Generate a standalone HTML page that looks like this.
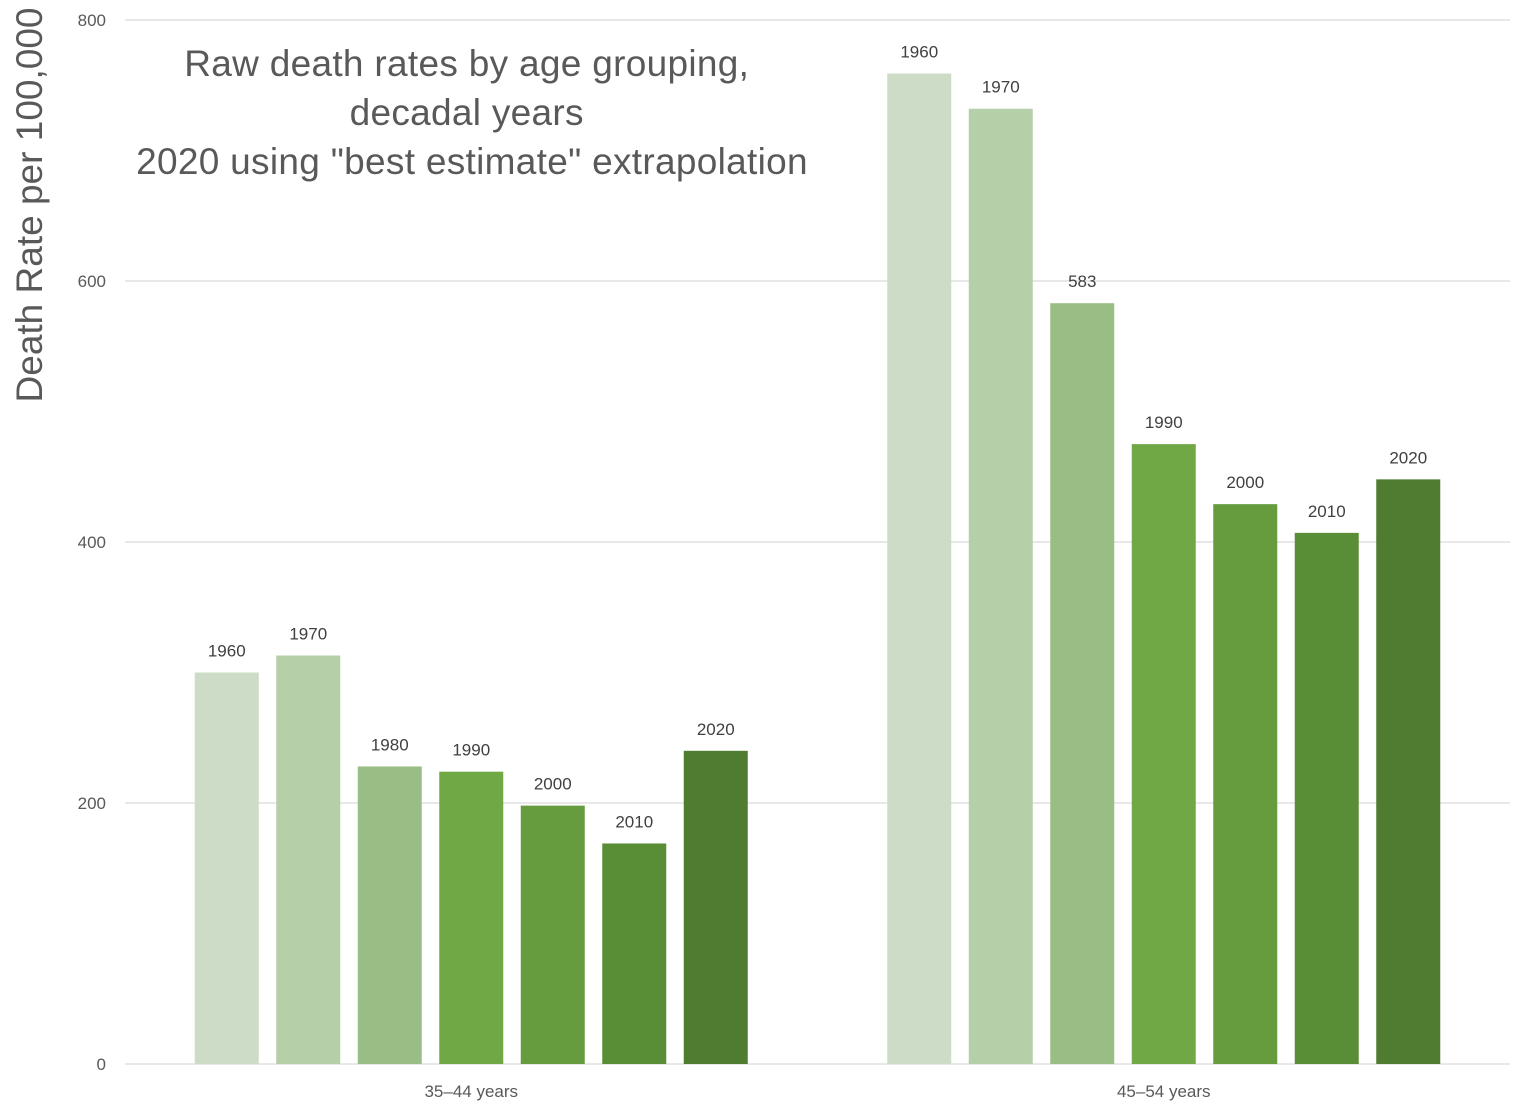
<!DOCTYPE html>
<html><head><meta charset="utf-8"><style>
body{margin:0;background:#fff;}
svg{display:block;font-family:"Liberation Sans",sans-serif;}
</style></head><body>
<svg id="chart" width="1520" height="1112">
<text x="472" fill="#595959" font-size="37" letter-spacing="0.3" text-anchor="middle">
<tspan x="472" y="76">Raw death rates by age grouping,</tspan>
<tspan x="472" y="125">decadal years</tspan>
<tspan x="472" y="174">2020 using "best estimate" extrapolation</tspan>
</text>
<text transform="translate(42,205) rotate(-90)" fill="#595959" font-size="37" text-anchor="middle">Death Rate per 100,000</text>
<g id="grid"></g><g id="bars"></g>
</svg>
<script>
const categories = ["35–44 years","45–54 years"];
const years = ["1960","1970","1980","1990","2000","2010","2020"];
const values35 = [300,313,228,224,198,169,240];
const values45 = [759,732,583,475,429,407,448];
const labels35 = ["1960","1970","1980","1990","2000","2010","2020"];
const labels45 = ["1960","1970","583","1990","2000","2010","2020"];
const yTicks = [0,200,400,600,800];
const colors = ["#cddcc6","#b5cfa8","#98bd85","#70a845","#669c3e","#5a8e36","#4f7c30"];
const NS="http://www.w3.org/2000/svg";
const x0=125,x1=1510,yBase=1064,yTop=20,yMax=800;
const yScale=v=>yBase-(yBase-yTop)*v/yMax;
const catW=(x1-x0)/categories.length;
const barW=64,step=81.5;
const grid=document.getElementById('grid'),bars=document.getElementById('bars');
function mk(t,a,p){const e=document.createElementNS(NS,t);for(const k in a)e.setAttribute(k,a[k]);p.appendChild(e);return e;}
yTicks.forEach(t=>{
 const y=yScale(t);
 const l=mk('line',{x1:x0,x2:x1,y1:y,y2:y,stroke:'#d9d9d9','stroke-width':1.3},grid);
 
 
 const tx=mk('text',{x:106,y:y+6,'text-anchor':'end','font-size':17,fill:'#595959'},grid);
 tx.textContent=t;
 
 
});
const series=[values35,values45],lbls=[labels35,labels45];
categories.forEach((c,ci)=>{
 const cx=x0+catW*(ci+0.5);
 const start=cx-(step*(years.length-1)+barW)/2;
 series[ci].forEach((v,i)=>{
  const x=start+i*step,y=yScale(v);
  const r=mk('rect',{x:x,y:y,width:barW,height:yBase-y,fill:colors[i]},bars);
  
  
  const t=mk('text',{x:x+barW/2,y:y-16,'text-anchor':'middle','font-size':17,fill:'#404040'},bars);
  t.textContent=lbls[ci][i];
  
  
 });
 const ct=mk('text',{x:cx,y:1097,'text-anchor':'middle','font-size':17,fill:'#595959'},bars);
 ct.textContent=c;
 
 
});
</script>
</body></html>
